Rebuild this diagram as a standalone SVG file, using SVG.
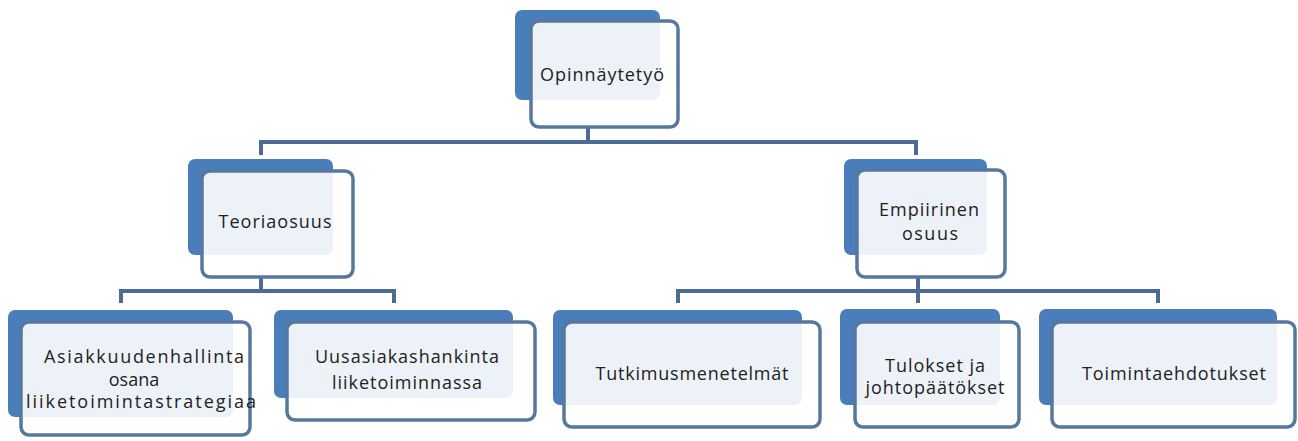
<svg xmlns="http://www.w3.org/2000/svg" width="1298" height="441" viewBox="0 0 1298 441">
  <style>
    .back { fill: #4a7ebb; }
    .front { fill: #ffffff; fill-opacity: 0.9; stroke: #56789f; stroke-width: 3.5; }
    .lbl { font-family: "Open Sans", "Liberation Sans", sans-serif; font-size: 18px; fill: #222222; text-anchor: middle; }
    .conn { fill: none; stroke: #4b6a96; stroke-width: 4; stroke-linejoin: miter; }
  </style>
  <rect width="1298" height="441" fill="#ffffff"/>
  <g id="connectors">
    <path class="conn" d="M588 127 V142 M261 155 V142 H916 V155"/>
    <path class="conn" d="M261 277 V291 M121 303 V291 H394 V303"/>
    <path class="conn" d="M918 277 V303 M678 303 V291 H1158 V303"/>
  </g>
  <g id="node-opinnaytetyo">
    <rect class="back" x="515" y="10" width="145" height="90" rx="7"/>
    <rect class="front" x="531" y="21" width="147" height="106" rx="8"/>
    <text class="lbl" x="602" y="81" textLength="124" lengthAdjust="spacing">Opinnäytetyö</text>
  </g>
  <g id="node-teoriaosuus">
    <rect class="back" x="188" y="159" width="145" height="96" rx="7"/>
    <rect class="front" x="202" y="171" width="151" height="106" rx="8"/>
    <text class="lbl" x="275" y="228" textLength="113" lengthAdjust="spacing">Teoriaosuus</text>
  </g>
  <g id="node-empiirinen">
    <rect class="back" x="844" y="159" width="143" height="96" rx="7"/>
    <rect class="front" x="857" y="170" width="148" height="107" rx="8"/>
    <text class="lbl" x="929" y="216" textLength="100" lengthAdjust="spacing">Empiirinen</text>
    <text class="lbl" x="930" y="240" textLength="56" lengthAdjust="spacing">osuus</text>
  </g>
  <g id="node-asiakkuudenhallinta">
    <rect class="back" x="8" y="310" width="225" height="107" rx="7"/>
    <rect class="front" x="21" y="322" width="229" height="113" rx="8"/>
    <text class="lbl" x="144" y="363" textLength="200" lengthAdjust="spacing">Asiakkuudenhallinta</text>
    <text class="lbl" x="134" y="386">osana</text>
    <text class="lbl" x="141" y="408" textLength="230" lengthAdjust="spacing">liiketoimintastrategiaa</text>
  </g>
  <g id="node-uusasiakashankinta">
    <rect class="back" x="274" y="310" width="239" height="88" rx="7"/>
    <rect class="front" x="287" y="322" width="248" height="98" rx="8"/>
    <text class="lbl" x="407" y="363" textLength="184" lengthAdjust="spacing">Uusasiakashankinta</text>
    <text class="lbl" x="407" y="389" textLength="150" lengthAdjust="spacing">liiketoiminnassa</text>
  </g>
  <g id="node-tutkimusmenetelmat">
    <rect class="back" x="553" y="310" width="249" height="95" rx="7"/>
    <rect class="front" x="564" y="322" width="256" height="105" rx="8"/>
    <text class="lbl" x="692" y="380" textLength="193" lengthAdjust="spacing">Tutkimusmenetelmät</text>
  </g>
  <g id="node-tulokset">
    <rect class="back" x="840" y="309" width="160" height="96" rx="7"/>
    <rect class="front" x="855" y="322" width="164" height="105" rx="8"/>
    <text class="lbl" x="935" y="372" textLength="100" lengthAdjust="spacing">Tulokset ja</text>
    <text class="lbl" x="935" y="394" textLength="139" lengthAdjust="spacing">johtopäätökset</text>
  </g>
  <g id="node-toimintaehdotukset">
    <rect class="back" x="1039" y="309" width="238" height="96" rx="7"/>
    <rect class="front" x="1052" y="322" width="243" height="105" rx="8"/>
    <text class="lbl" x="1174" y="380" textLength="184" lengthAdjust="spacing">Toimintaehdotukset</text>
  </g>
</svg>
